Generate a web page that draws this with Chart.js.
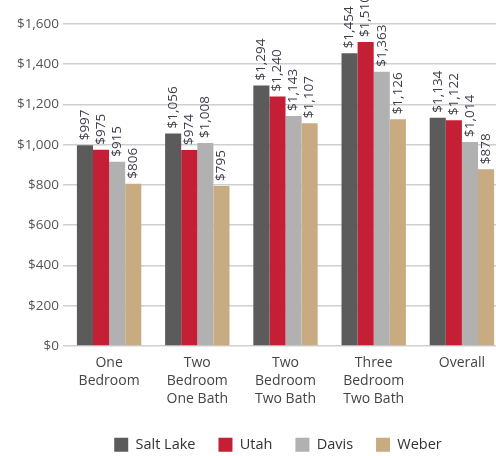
<!DOCTYPE html>
<html>
<head>
<meta charset="utf-8">
<script src="https://cdn.jsdelivr.net/npm/chart.js@4.4.1/dist/chart.umd.min.js"></script>
<style>
    html, body { margin: 0; padding: 0; background: #fff; overflow: hidden; }
    #wrap { width: 496px; height: 456px; overflow: hidden; }
</style>
</head>
<body>
<div id="wrap"><canvas id="rentChart" width="506" height="456"></canvas></div>
<script>
// rent by unit type and county
const categories = [
    ['One', 'Bedroom'],
    ['Two', 'Bedroom', 'One Bath'],
    ['Two', 'Bedroom', 'Two Bath'],
    ['Three', 'Bedroom', 'Two Bath'],
    ['Overall']
];
const counties = ['Salt Lake', 'Utah', 'Davis', 'Weber'];
const saltLake = [997, 1056, 1294, 1454, 1134];
const utah = [975, 974, 1240, 1510, 1122];
const davis = [915, 1008, 1143, 1363, 1014];
const weber = [806, 795, 1107, 1126, 878];
const yTicks = [0, 200, 400, 600, 800, 1000, 1200, 1400, 1600];

const colors = ['#5b5b5b', '#c41f35', '#b1b1b1', '#c9ab82'];
const seriesValues = [saltLake, utah, davis, weber];

const money = v => '$' + v.toLocaleString('en-US');
const FONT = '"Open Sans", "Noto Sans", sans-serif';

// vertical value labels above each bar
const barLabels = {
    id: 'barLabels',
    afterDatasetsDraw(chart) {
        const { ctx } = chart;
        ctx.save();
        ctx.font = '13.5px ' + FONT;
        ctx.fillStyle = '#3d3d4a';
        ctx.textAlign = 'left';
        ctx.textBaseline = 'middle';
        chart.data.datasets.forEach((ds, i) => {
            chart.getDatasetMeta(i).data.forEach((bar, j) => {
                ctx.save();
                ctx.translate(bar.x, bar.y - 5);
                ctx.rotate(-Math.PI / 2);
                ctx.fillText(money(ds.data[j]), 0, 0);
                ctx.restore();
            });
        });
        ctx.restore();
    }
};

// the original legend sits a bit right of centre and lower
const legendShift = {
    id: 'legendShift',
    afterLayout(chart) {
        const lg = chart.legend;
        if (!lg) return;
        lg.left = 50;
        lg.top += 6;
        lg.bottom += 6;
    }
};

new Chart(document.getElementById('rentChart'), {
    type: 'bar',
    data: {
        labels: categories,
        datasets: counties.map((name, i) => ({
            label: name,
            data: seriesValues[i],
            backgroundColor: colors[i],
            borderWidth: 0,
            categoryPercentage: 0.73,
            barPercentage: 1.0
        }))
    },
    options: {
        responsive: false,
        animation: false,
        layout: { padding: { top: 24, right: 0, bottom: 0, left: 0 } },
        plugins: {
            tooltip: { enabled: false },
            legend: {
                position: 'bottom',
                labels: {
                    boxWidth: 14,
                    boxHeight: 14,
                    padding: 23,
                    color: '#333',
                    font: { family: FONT, size: 14.5 }
                }
            }
        },
        scales: {
            x: {
                grid: { display: false },
                border: { display: false },
                ticks: {
                    color: '#444',
                    font: { family: FONT, size: 14, lineHeight: 1.3 },
                    maxRotation: 0,
                    autoSkip: false,
                    padding: 0
                }
            },
            y: {
                min: 0,
                max: 1600,
                afterFit(scale) { scale.width = 65; },
                afterBuildTicks(scale) { scale.ticks = yTicks.map(v => ({ value: v })); },
                grid: { color: '#cfcfcf', lineWidth: 1.5, drawTicks: true, tickLength: 2 },
                border: { display: false },
                ticks: {
                    color: '#555',
                    font: { family: FONT, size: 13.5 },
                    padding: 4,
                    callback: v => money(v)
                }
            }
        }
    },
    plugins: [barLabels, legendShift]
});
</script>
</body>
</html>
